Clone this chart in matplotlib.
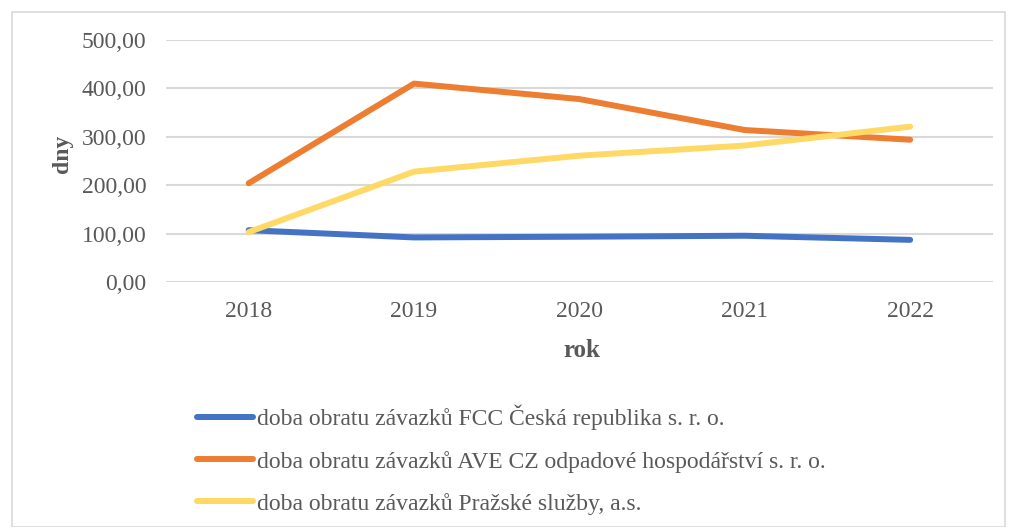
import matplotlib.pyplot as plt
from matplotlib.patches import Rectangle
from matplotlib.ticker import FuncFormatter

years = ["2018", "2019", "2020", "2021", "2022"]
fcc = [107, 92, 93.5, 95.5, 87]
ave = [204, 410, 378, 314, 294]
prazske = [103, 228, 261, 282, 321]
labels = [
    "doba obratu závazků FCC Česká republika s. r. o.",
    "doba obratu závazků AVE CZ odpadové hospodářství s. r. o.",
    "doba obratu závazků Pražské služby, a.s.",
]
colors = ["#4472C4", "#ED7D31", "#FFD966"]

plt.rcParams["font.family"] = ["Liberation Serif", "DejaVu Serif"]

fig = plt.figure(figsize=(10.09, 5.27), dpi=100)
fig.patches.append(Rectangle((12 / 1009, 0), 993 / 1009, 515 / 527, transform=fig.transFigure,
                             fill=False, edgecolor="#D9D9D9", linewidth=1.2))
ax = fig.add_axes([0.1645, 0.465, 0.8195, 0.459])

x = list(range(len(years)))
for vals, lab, col in zip([fcc, ave, prazske], labels, colors):
    ax.plot(x, vals, color=col, linewidth=4.3, label=lab, solid_capstyle="round")

ax.set_xlim(-0.5, 4.5)
ax.set_ylim(0, 500)
ax.set_yticks(range(0, 501, 100))
ax.yaxis.set_major_formatter(FuncFormatter(lambda v, p: f"{v:.2f}".replace(".", ",")))
ax.set_xticks(x)
ax.set_xticklabels(years)
ax.grid(axis="y", color="#D9D9D9", linewidth=1.5)
ax.set_axisbelow(True)
for s in ax.spines.values():
    s.set_visible(False)
ax.tick_params(length=0, labelsize=17, labelcolor="#595959")
ax.tick_params(axis="y", pad=14)
ax.tick_params(axis="x", pad=14)

ax.set_ylabel("dny", fontsize=17, fontweight="bold", color="#595959")
ax.yaxis.set_label_coords(-0.1125, 0.529)
ax.set_xlabel("rok", fontsize=18, fontweight="bold", color="#595959")
ax.xaxis.set_label_coords(0.503, -0.235)

handles, labs = ax.get_legend_handles_labels()
leg = fig.legend(handles, labs, loc="upper left", bbox_to_anchor=(0.195, 0.2315), frameon=False,
                 fontsize=17, handlelength=2.37, handletextpad=0.17, labelspacing=0.85,
                 borderpad=0, borderaxespad=0)
for t in leg.get_texts():
    t.set_color("#595959")

fig.savefig("out.png", dpi=100)
